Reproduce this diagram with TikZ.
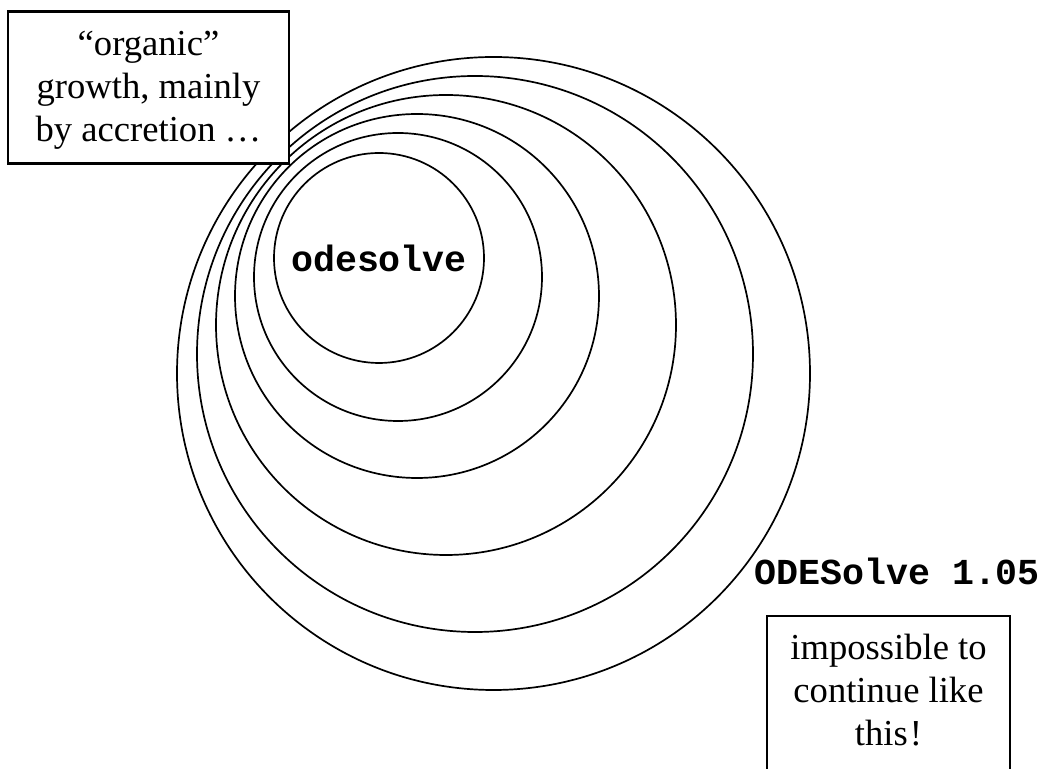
\documentclass[tikz,border=0pt]{standalone}
\usepackage{fontspec}
\setmainfont{Liberation Serif}
\setmonofont{Liberation Mono}
\begin{document}
\begin{tikzpicture}[x=0.5pt,y=-0.5pt,
  ring/.style={line width=0.85pt},
  frame/.style={draw, line width=1.1pt, fill=white, inner sep=0pt},
  note/.style={align=center, font=\fontsize{18.3pt}{21.5pt}\selectfont, inner sep=0pt},
  code/.style={font=\ttfamily\bfseries\fontsize{18.3pt}{21pt}\selectfont, inner sep=0pt}]
\useasboundingbox (0,0) rectangle (1046,769);
\clip (0,0) rectangle (1046,769);
% growth rings
\foreach \cx/\cy/\r in {379/258/105, 398/277/144, 417/296/182, 446/325/230, 475/354/278, 493.5/373.5/316.5}
  \draw[ring] (\cx,\cy) circle[radius=\r];
% labels
\node[code] (core) at (379,258) {odesolve};
\node[code, anchor=base west] (ver) at (754,585) {ODESolve 1.05};
% top-left note
\node[frame, minimum width=140.5pt, minimum height=76pt] (orgbox) at (148.5,87.5) {};
\node[note] (org) at (148.5,90.5) {“organic”\\growth, mainly\\by accretion …};
% bottom-right note (box runs past the lower edge)
\node[frame, minimum width=121.5pt, minimum height=100pt, anchor=north] (impbox) at (888.5,615) {};
\node[note, anchor=north] (imp) at (888.5,634) {impossible to\\continue like\\this\kern1pt!};
\end{tikzpicture}
\end{document}
